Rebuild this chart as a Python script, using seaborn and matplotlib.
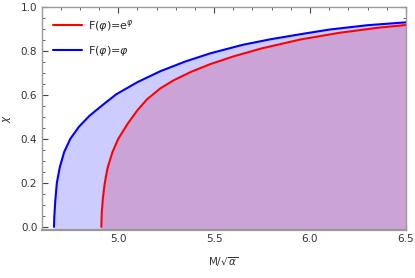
import numpy as np
import matplotlib.pyplot as plt
import seaborn as sns
from matplotlib.ticker import MultipleLocator

# curve data (x = M/sqrt(alpha), y = chi)
blue_x = [4.665, 4.667, 4.672, 4.680, 4.695, 4.718, 4.750, 4.795, 4.850, 4.920,
          4.990, 5.100, 5.220, 5.350, 5.480, 5.650, 5.800, 5.950, 6.100, 6.300, 6.500]
blue_y = [0.000, 0.050, 0.120, 0.200, 0.270, 0.340, 0.400, 0.455, 0.505, 0.555,
          0.603, 0.658, 0.708, 0.752, 0.789, 0.828, 0.854, 0.876, 0.897, 0.917, 0.930]

red_x = [4.912, 4.914, 4.920, 4.930, 4.945, 4.970, 5.000, 5.050, 5.100, 5.150,
         5.220, 5.290, 5.380, 5.480, 5.600, 5.750, 5.950, 6.150, 6.350, 6.500]
red_y = [0.000, 0.060, 0.130, 0.200, 0.270, 0.340, 0.400, 0.470, 0.530, 0.580,
         0.630, 0.667, 0.705, 0.740, 0.775, 0.812, 0.852, 0.882, 0.905, 0.918]

labels = [r'F($\varphi$)=e$^{\varphi}$', r'F($\varphi$)=$\varphi$']

sns.set_style('white')
plt.rcParams['font.family'] = ['DejaVu Sans']
plt.rcParams['mathtext.fontset'] = 'dejavusans'

fig, ax = plt.subplots(figsize=(4.15, 2.78), dpi=100)
fig.subplots_adjust(left=0.1, right=0.978, top=0.975, bottom=0.172)

# filled regions: blue first, red region drawn on top (purple)
ax.fill_between(blue_x, blue_y, -0.02, color='#ccccff', lw=0)
ax.fill_between(red_x, red_y, -0.02, color='#cba3d6', lw=0)

sns.lineplot(x=red_x, y=red_y, ax=ax, color='#ff0000', lw=1.5, sort=False,
             label=labels[0])
sns.lineplot(x=blue_x, y=blue_y, ax=ax, color='#0000ff', lw=1.5, sort=False,
             label=labels[1])

ax.set_xlim(4.6, 6.5)
ax.set_ylim(-0.015, 1.0)
ax.set_xticks([5.0, 5.5, 6.0, 6.5])
ax.set_xticklabels(['5.0', '5.5', '6.0', '6.5'])
ax.set_yticks([0.0, 0.2, 0.4, 0.6, 0.8, 1.0])
ax.set_yticklabels(['0.0', '0.2', '0.4', '0.6', '0.8', '1.0'])
ax.xaxis.set_minor_locator(MultipleLocator(0.1))
ax.yaxis.set_minor_locator(MultipleLocator(0.05))

ax.tick_params(which='both', direction='in', bottom=True, left=True,
               top=True, right=True, color='#444444', labelsize=7.5,
               labelcolor='#333333', pad=3)
ax.tick_params(which='major', length=4, width=0.8)
ax.tick_params(which='minor', length=2, width=0.6)
for s in ax.spines.values():
    s.set_color('#999999')
    s.set_linewidth(1.0)
ax.spines['bottom'].set_linewidth(1.6)

ax.set_xlabel(r'M/$\sqrt{\alpha}$', fontsize=7.5, color='#333333', labelpad=8)
ax.set_ylabel(r'$\chi$', fontsize=7.5, color='#333333', labelpad=6)

ax.legend(loc='upper left', frameon=False, fontsize=8, handlelength=2.6,
          borderaxespad=0.6, labelspacing=0.9, handletextpad=0.6)

fig.savefig('out.png', dpi=100)
